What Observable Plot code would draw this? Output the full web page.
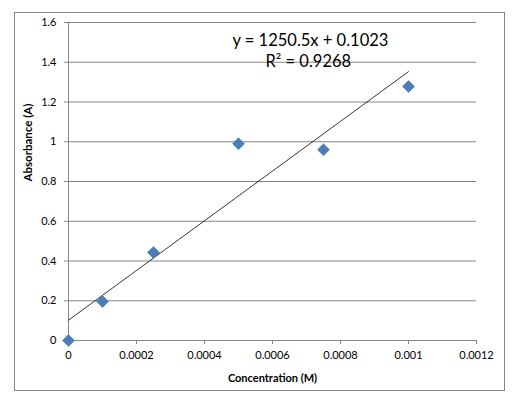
<!DOCTYPE html>
<html>
<head>
<meta charset="utf-8">
<script src="https://cdn.jsdelivr.net/npm/d3@7"></script>
<script src="https://cdn.jsdelivr.net/npm/@observablehq/plot@0.6"></script>
<style>
  html, body { margin: 0; padding: 0; background: #fff; }
  #chart { width: 512px; height: 399px; }
</style>
</head>
<body>
<div id="chart"></div>
<script>
// Data
const concentration = [0, 0.0001, 0.00025, 0.0005, 0.00075, 0.001];
const absorbance = [0, 0.196, 0.443, 0.99, 0.96, 1.278];

// Trendline endpoints (Excel linear fit y = 1250.5x + 0.1023)
const trendX = [0, 0.001];
const trendY = [0.1023, 1.3528];

const xTicks = [0, 0.0002, 0.0004, 0.0006, 0.0008, 0.001, 0.0012];
const xTickLabels = ["0", "0.0002", "0.0004", "0.0006", "0.0008", "0.001", "0.0012"];
const yTicks = [0, 0.2, 0.4, 0.6, 0.8, 1, 1.2, 1.4, 1.6];
const yTickLabels = ["0", "0.2", "0.4", "0.6", "0.8", "1", "1.2", "1.4", "1.6"];
const gridY = [0.2, 0.4, 0.6, 0.8, 1, 1.2, 1.4, 1.6];

const equationText = "y = 1250.5x + 0.1023";
const r2Text = "R² = 0.9268";
const xTitle = "Concentration (M)";
const yTitle = "Absorbance (A)";

const points = concentration.map((c, i) => ({x: c, y: absorbance[i]}));
const trend = trendX.map((c, i) => ({x: c, y: trendY[i]}));

const gray = "#868686";
const fontFam = "Lato, 'Open Sans', sans-serif";

const svg = Plot.plot({
  width: 512,
  height: 399,
  marginLeft: 68,
  marginRight: 36,
  marginTop: 22,
  marginBottom: 59,
  style: {fontFamily: fontFam, fontSize: "11px", color: "#000", background: "#fff"},
  x: {domain: [0, 0.0012]},
  y: {domain: [0, 1.6]},
  marks: [
    Plot.ruleY(gridY, {x1: 0, x2: 0.0012, stroke: gray, strokeWidth: 1}),
    Plot.ruleX([0], {stroke: gray}),
    Plot.ruleY([0], {x1: 0, x2: 0.0012, stroke: gray}),
    Plot.axisX({
      ticks: xTicks,
      tickFormat: (d, i) => xTickLabels[i],
      tickSize: 4,
      tickPadding: 7,
      stroke: gray,
      fill: "#000",
      label: null
    }),
    Plot.axisY({
      ticks: yTicks,
      tickFormat: (d, i) => yTickLabels[i],
      tickSize: 4,
      tickPadding: 8,
      stroke: gray,
      fill: "#000",
      label: null
    }),
    Plot.line(trend, {x: "x", y: "y", stroke: "#000", strokeWidth: 0.8}),
    Plot.dot(points, {
      x: "x", y: "y", symbol: "diamond2", r: 5.4,
      fill: "#4a7ebb", stroke: "#3b6ba5", strokeWidth: 0.5
    }),
    Plot.text([equationText], {
      frameAnchor: "top-left", dx: 164, dy: 18,
      textAnchor: "start", lineAnchor: "middle",
      fontSize: 16.5, fill: "#000"
    }),
    Plot.text([r2Text], {
      frameAnchor: "top-left", dx: 197, dy: 39,
      textAnchor: "start", lineAnchor: "middle",
      fontSize: 16.5, fill: "#000"
    }),
    Plot.text([xTitle], {
      frameAnchor: "bottom", dy: 38, lineAnchor: "middle",
      fontWeight: "bold", fontSize: 11, fill: "#000"
    }),
    Plot.text([yTitle], {
      frameAnchor: "left", dx: -40, rotate: -90, lineAnchor: "middle",
      fontWeight: "bold", fontSize: 11.5, fill: "#000"
    })
  ]
});

// Outer chart-area border
d3.select(svg).insert("rect", ":first-child")
  .attr("x", 14.5).attr("y", 12.5)
  .attr("width", 490).attr("height", 378)
  .attr("fill", "none").attr("stroke", gray).attr("stroke-width", 1);

document.getElementById("chart").appendChild(svg);
</script>
</body>
</html>
